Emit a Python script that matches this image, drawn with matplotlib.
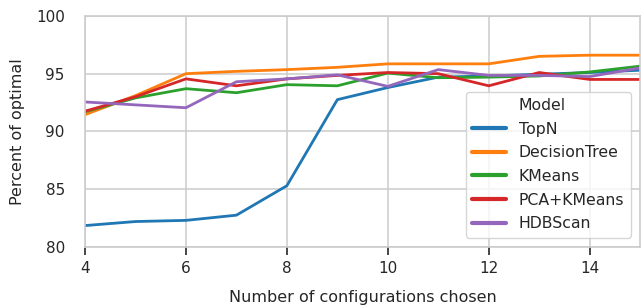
import matplotlib
matplotlib.use("Agg")
import matplotlib.pyplot as plt
import seaborn as sns

sns.set_style("whitegrid")
plt.rcParams['font.family'] = ['DejaVu Sans']

# values
n_configs = [4, 5, 6, 7, 8, 9, 10, 11, 12, 13, 14, 15]
models = ["TopN", "DecisionTree", "KMeans", "PCA+KMeans", "HDBScan"]
topn = [81.85, 82.2, 82.3, 82.75, 85.3, 92.75, 93.8, 94.7, 94.8, 94.95, 95.1, 95.3]
decision_tree = [91.45, 93.1, 95.0, 95.2, 95.35, 95.55, 95.85, 95.85, 95.85, 96.5, 96.6, 96.6]
kmeans = [91.7, 92.9, 93.7, 93.35, 94.05, 93.95, 95.05, 94.65, 94.7, 94.8, 95.15, 95.65]
pca_kmeans = [91.75, 93.0, 94.55, 93.95, 94.55, 94.85, 95.1, 95.0, 93.95, 95.1, 94.5, 94.5]
hdbscan = [92.55, 92.3, 92.05, 94.3, 94.55, 94.9, 93.9, 95.35, 94.85, 94.85, 94.75, 95.5]
series = [topn, decision_tree, kmeans, pca_kmeans, hdbscan]
colors = ["#1f77b4", "#ff7f0e", "#2ca02c", "#d62728", "#9467bd"]

fig = plt.figure(figsize=(6.44, 3.06), dpi=100)
ax = fig.add_axes([0.132, 0.193, 0.862, 0.755])

for name, vals, c in zip(models, series, colors):
    ax.plot(n_configs, vals, color=c, lw=2.0, label=name)

ax.set_xlim(4, 15)
ax.set_ylim(80, 100)
ax.set_xticks([4, 6, 8, 10, 12, 14])
ax.set_yticks([80, 85, 90, 95, 100])
ax.tick_params(axis='x', which='major', bottom=True, length=6, width=1.2,
               color='#262626', labelsize=11, pad=4)
ax.tick_params(axis='y', left=False, labelsize=11, pad=11)
ax.grid(True, color='#cccccc', lw=1.1)
for s in ax.spines.values():
    s.set_color('#cccccc')
    s.set_linewidth(1.2)

ax.set_xlabel("Number of configurations chosen", fontsize=11.5, labelpad=10)
ax.set_ylabel("Percent of optimal", fontsize=11.5, labelpad=8)

# seaborn style legend: title shown as a blank entry
handles, labels = ax.get_legend_handles_labels()
blank = plt.Line2D([], [], color='none')
leg = ax.legend([blank] + handles, ["Model"] + labels, loc='lower right',
                fontsize=11.3, handlelength=2.2, labelspacing=0.55,
                borderaxespad=0.6, framealpha=0.8, edgecolor='#cccccc')
for h in leg.get_lines():
    h.set_linewidth(3)

fig.savefig("out.png", dpi=100)
